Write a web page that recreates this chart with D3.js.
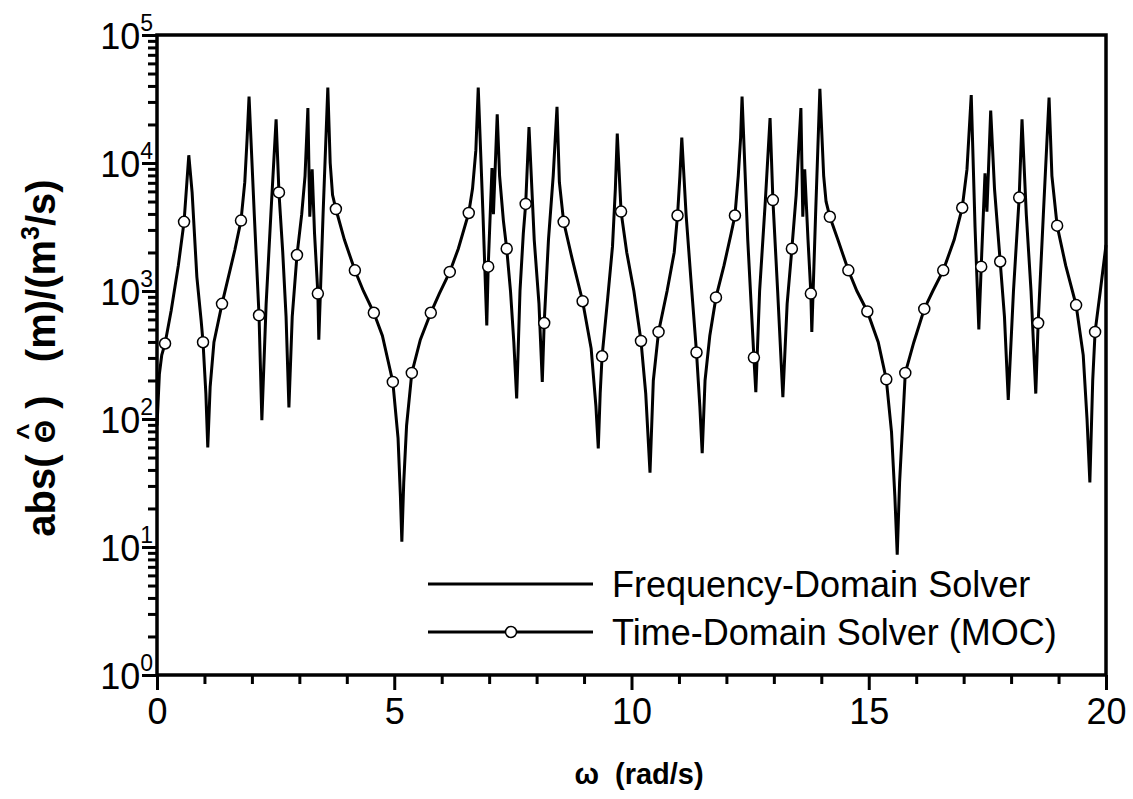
<!DOCTYPE html>
<html>
<head>
<meta charset="utf-8">
<script src="https://cdn.jsdelivr.net/npm/d3@7"></script>
<style>
  body { margin: 0; background: #fff; }
  svg { display: block; font-family: "Liberation Sans", Arial, sans-serif; }
  .axis path { display: none; }
  .axis line { stroke: #000; stroke-width: 3; }
</style>
</head>
<body>
<div id="graf"></div>
<script>
// Frequency-domain solver: omega (rad/s) and abs value
const fdOmega = [
  0.00, 0.05, 0.10, 0.17, 0.30, 0.45, 0.57, 0.63, 0.67, 0.74, 0.84, 0.93, 0.97, 1.03, 1.07, 1.12, 1.20, 1.37, 1.64, 1.77,
  1.85, 1.90, 1.94, 2.05, 2.15, 2.21, 2.30, 2.40, 2.51, 2.57, 2.65, 2.72, 2.78, 2.85, 2.95, 3.05, 3.12, 3.18, 3.22, 3.27,
  3.32, 3.39, 3.41, 3.50, 3.60, 3.65, 3.70, 3.77, 3.95, 4.17, 4.35, 4.57, 4.75, 4.97, 5.08, 5.13, 5.16, 5.20, 5.26, 5.37,
  5.55, 5.77, 5.95, 6.17, 6.35, 6.57, 6.65, 6.72, 6.77, 6.87, 6.95, 6.98, 7.06, 7.09, 7.17, 7.22, 7.30, 7.37, 7.45, 7.52,
  7.58, 7.65, 7.72, 7.77, 7.84, 7.95, 8.05, 8.12, 8.16, 8.25, 8.35, 8.43, 8.48, 8.57, 8.75, 8.97, 9.15, 9.25, 9.30, 9.34,
  9.38, 9.50, 9.60, 9.66, 9.70, 9.78, 9.90, 10.05, 10.20, 10.30, 10.39, 10.46, 10.57, 10.75, 10.90, 10.97, 11.02, 11.06, 11.15, 11.25,
  11.37, 11.44, 11.49, 11.55, 11.65, 11.78, 11.95, 12.10, 12.18, 12.25, 12.30, 12.33, 12.45, 12.58, 12.62, 12.70, 12.82, 12.92, 12.98, 13.08,
  13.19, 13.28, 13.38, 13.47, 13.57, 13.61, 13.65, 13.72, 13.78, 13.80, 13.88, 13.97, 14.05, 14.10, 14.18, 14.35, 14.57, 14.75, 14.97, 15.20,
  15.37, 15.48, 15.55, 15.60, 15.65, 15.72, 15.77, 15.95, 16.17, 16.35, 16.57, 16.80, 16.97, 17.07, 17.16, 17.24, 17.32, 17.37, 17.45, 17.49,
  17.57, 17.65, 17.77, 17.86, 17.94, 18.05, 18.17, 18.23, 18.32, 18.42, 18.52, 18.57, 18.68, 18.80, 18.86, 18.97, 19.15, 19.37, 19.52, 19.60,
  19.66, 19.72, 19.77, 19.88, 20.00
];
const fdValue = [
  89, 224, 316, 389, 708, 1585, 3470, 7080, 11500, 5890, 1290, 589, 398, 158, 60, 178, 398, 794, 2090, 3550,
  7080, 15800, 33100, 3980, 646, 98, 794, 3980, 21900, 5890, 2000, 631, 123, 631, 1910, 3980, 7940, 26900, 3800, 8910,
  2820, 955, 417, 3980, 38900, 10000, 5620, 4370, 2510, 1450, 1000, 676, 447, 195, 71, 25, 11, 32, 89, 229,
  417, 676, 955, 1410, 2140, 4070, 6310, 12600, 38900, 3980, 537, 1550, 9120, 3980, 24000, 7940, 3550, 2140, 1000, 398,
  145, 1000, 2820, 4790, 19100, 2510, 794, 195, 562, 2510, 7940, 27500, 7080, 3470, 1780, 832, 355, 126, 59, 158,
  309, 891, 2240, 6310, 17000, 4170, 2000, 1000, 407, 158, 38, 200, 479, 1000, 2000, 3890, 7940, 15800, 3980, 1260,
  331, 126, 54, 200, 447, 891, 1585, 2820, 3890, 7940, 15800, 33100, 2510, 302, 162, 1000, 5010, 22400, 5130, 1000,
  148, 794, 2140, 5620, 26900, 3800, 8910, 2510, 955, 479, 3980, 38000, 7940, 5010, 3800, 2510, 1450, 1000, 692, 398,
  204, 79, 25, 8.7, 32, 100, 229, 398, 724, 1000, 1450, 2510, 4470, 8910, 33900, 3160, 501, 1550, 8320, 4170,
  25700, 6310, 1700, 631, 141, 1000, 5370, 21900, 3980, 1000, 158, 562, 3980, 32400, 7940, 3240, 1585, 776, 316, 100,
  32, 200, 479, 1000, 2290
];

// Time-domain solver (MOC) markers
const mocOmega = [
  0.17, 0.57, 0.97, 1.37, 1.77, 2.15, 2.57, 2.95, 3.39, 3.77, 4.17, 4.57, 4.97, 5.37, 5.77, 6.17, 6.57, 6.98, 7.37, 7.77,
  8.16, 8.57, 8.97, 9.38, 9.78, 10.20, 10.57, 10.97, 11.37, 11.78, 12.18, 12.58, 12.98, 13.38, 13.78, 14.18, 14.57, 14.97, 15.37, 15.77,
  16.17, 16.57, 16.97, 17.37, 17.77, 18.17, 18.57, 18.97, 19.37, 19.77
];
const mocValue = [
  389, 3470, 398, 794, 3550, 646, 5890, 1910, 955, 4370, 1450, 676, 195, 229, 676, 1410, 4070, 1550, 2140, 4790,
  562, 3470, 832, 309, 4170, 407, 479, 3890, 331, 891, 3890, 302, 5130, 2140, 955, 3800, 1450, 692, 204, 229,
  724, 1450, 4470, 1550, 1700, 5370, 562, 3240, 776, 479
];

const xMajor = [0, 5, 10, 15, 20];
const xMinor = [1, 2, 3, 4, 6, 7, 8, 9, 11, 12, 13, 14, 16, 17, 18, 19];
const yExponents = [0, 1, 2, 3, 4, 5];
const legendLabels = ["Frequency-Domain Solver", "Time-Domain Solver (MOC)"];

const anchoTotal = 1133;
const altoTotal = 799;
const margins = { top: 35, right: 27, bottom: 124, left: 157 };
const ancho = anchoTotal - margins.left - margins.right;
const alto = altoTotal - margins.top - margins.bottom;

const svg = d3.select("#graf").append("svg")
  .attr("width", anchoTotal)
  .attr("height", altoTotal);

const g = svg.append("g").attr("transform", `translate(${margins.left}, ${margins.top})`);

// Escaladores
const x = d3.scaleLinear().domain([0, 20]).range([0, ancho]);
const y = d3.scaleLog().domain([1, 1e5]).range([alto, 0]);

const yMinor = [];
yExponents.slice(0, -1).forEach((e) => {
  for (let k = 2; k <= 9; k++) yMinor.push(k * Math.pow(10, e));
});

// Ejes
g.append("g").attr("class", "axis").attr("transform", `translate(0, ${alto})`)
  .call(d3.axisBottom(x).tickValues(xMinor).tickSize(9).tickFormat(""));
const xAxisGroup = g.append("g").attr("class", "axis").attr("transform", `translate(0, ${alto})`)
  .call(d3.axisBottom(x).tickValues(xMajor).tickSize(15).tickPadding(8).tickFormat(d3.format("d")));
xAxisGroup.selectAll("text")
  .attr("fill", "#000")
  .style("font-size", "36px")
  .attr("dy", "0.71em");

g.append("g").attr("class", "axis")
  .call(d3.axisLeft(y).tickValues(yMinor).tickSize(9).tickFormat(""));
const yAxisGroup = g.append("g").attr("class", "axis")
  .call(d3.axisLeft(y).tickValues(yExponents.map((e) => Math.pow(10, e))).tickSize(15).tickFormat(""));

yAxisGroup.selectAll(".tick").each(function (d) {
  const t = d3.select(this).append("text")
    .attr("x", -4)
    .attr("y", 13)
    .attr("fill", "#000")
    .attr("text-anchor", "end")
    .style("font-size", "36px");
  t.append("tspan").text("10");
  t.append("tspan").attr("dy", -18).style("font-size", "23px").text(Math.round(Math.log10(d)));
});

// Marco
g.append("rect")
  .attr("width", ancho)
  .attr("height", alto)
  .attr("fill", "none")
  .attr("stroke", "#000")
  .attr("stroke-width", 3.5);

// Curva
const fdData = fdOmega.map((w, i) => ({ w, v: fdValue[i] }));
const mocData = mocOmega.map((w, i) => ({ w, v: mocValue[i] }));

const line = d3.line().x((d) => x(d.w)).y((d) => y(d.v));

g.append("path")
  .datum(fdData)
  .attr("fill", "none")
  .attr("stroke", "#000")
  .attr("stroke-width", 3)
  .attr("stroke-linejoin", "miter")
  .attr("stroke-miterlimit", 3)
  .attr("d", line);

g.selectAll("circle.moc")
  .data(mocData)
  .enter()
  .append("circle")
  .attr("class", "moc")
  .attr("cx", (d) => x(d.w))
  .attr("cy", (d) => y(d.v))
  .attr("r", 5.5)
  .attr("fill", "#fff")
  .attr("stroke", "#000")
  .attr("stroke-width", 1.5);

// Leyenda
const legend = svg.append("g").attr("transform", "translate(428, 584)");
legendLabels.forEach((label, i) => {
  const row = legend.append("g").attr("transform", `translate(0, ${i * 48})`);
  row.append("line").attr("x1", 0).attr("x2", 165).attr("stroke", "#000").attr("stroke-width", 3);
  if (i === 1) {
    row.append("circle").attr("cx", 83).attr("r", 5.5).attr("fill", "#fff").attr("stroke", "#000").attr("stroke-width", 1.5);
  }
  row.append("text")
    .attr("x", 184)
    .attr("y", 13)
    .style("font-size", "36px")
    .text(label);
});

// Titulos de ejes
svg.append("text")
  .attr("x", 639)
  .attr("y", 784)
  .attr("text-anchor", "middle")
  .style("white-space", "pre")
  .style("font-size", "29px")
  .style("font-weight", "bold")
  .text("ω  (rad/s)");

const yTitle = svg.append("g").attr("transform", "translate(55, 358) rotate(-90)");
const yText = yTitle.append("text")
  .attr("text-anchor", "middle")
  .style("white-space", "pre")
  .style("font-size", "40px")
  .style("font-weight", "bold");
yText.append("tspan").text("abs( ");
yText.append("tspan").style("font-size", "30px").text("Θ");
yText.append("tspan").text(" )   (m)/(m");
yText.append("tspan").attr("dy", -16).style("font-size", "25px").text("3");
yText.append("tspan").attr("dy", 16).text("/s)");

const theta = yText.node().getExtentOfChar(5);
yTitle.append("text")
  .attr("x", theta.x + theta.width / 2)
  .attr("y", theta.y + 8)
  .attr("text-anchor", "middle")
  .style("font-size", "28px")
  .style("font-weight", "bold")
  .text("^");
</script>
</body>
</html>
